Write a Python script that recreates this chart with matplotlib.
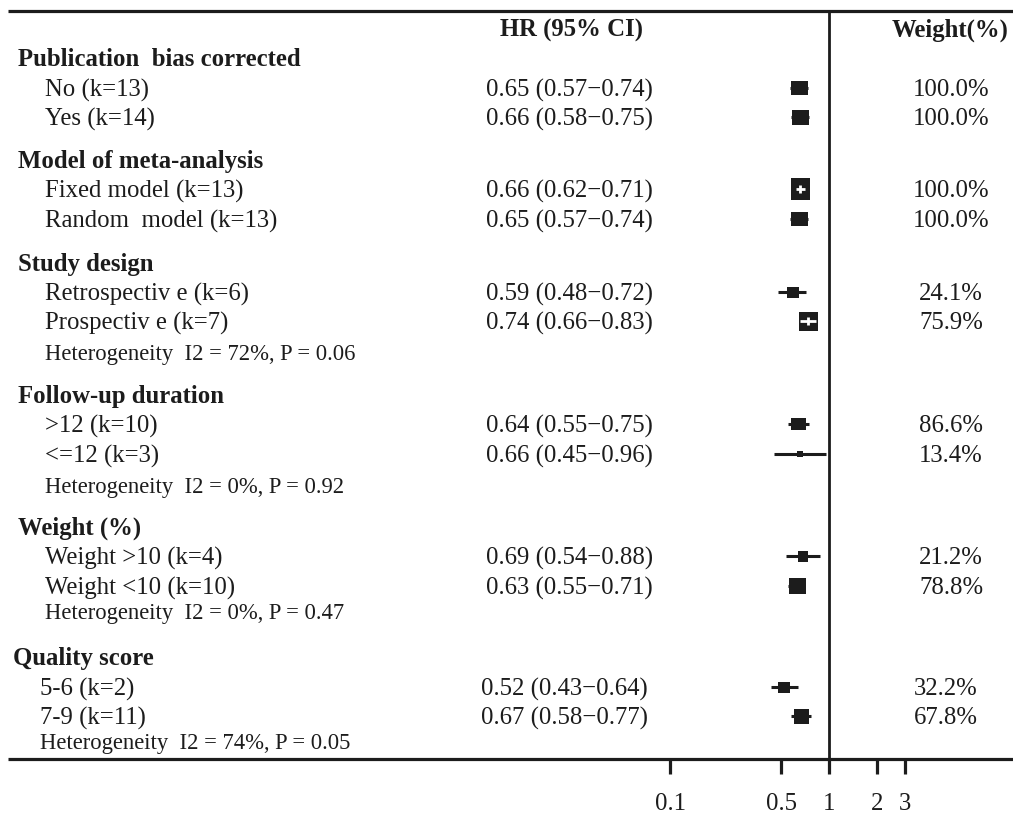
"""
Forest plot: subgroup / sensitivity analysis of HR (95% CI)
"""
import matplotlib
matplotlib.use('Agg')
import matplotlib.pyplot as plt
from matplotlib.path import Path

plt.rcParams['font.family'] = ['Liberation Serif', 'DejaVu Serif']

# ---- data ----
group_titles = ['Publication  bias corrected', 'Model of meta-analysis', 'Study design',
                'Follow-up duration', 'Weight (%)', 'Quality score']
sub_labels = ['No (k=13)', 'Yes (k=14)',
              'Fixed model (k=13)', 'Random  model (k=13)',
              'Retrospectiv e (k=6)', 'Prospectiv e (k=7)',
              '>12 (k=10)', '<=12 (k=3)',
              'Weight >10 (k=4)', 'Weight <10 (k=10)',
              '5-6 (k=2)', '7-9 (k=11)']
sub_group = [0, 0, 1, 1, 2, 2, 3, 3, 4, 4, 5, 5]
hr = [0.65, 0.66, 0.66, 0.65, 0.59, 0.74, 0.64, 0.66, 0.69, 0.63, 0.52, 0.67]
ci_low = [0.57, 0.58, 0.62, 0.57, 0.48, 0.66, 0.55, 0.45, 0.54, 0.55, 0.43, 0.58]
ci_high = [0.74, 0.75, 0.71, 0.74, 0.72, 0.83, 0.75, 0.96, 0.88, 0.71, 0.64, 0.77]
weights = [100.0, 100.0, 100.0, 100.0, 24.1, 75.9, 86.6, 13.4, 21.2, 78.8, 32.2, 67.8]
het_i2 = [None, None, 72, 0, 0, 74]
het_p = [None, None, 0.06, 0.92, 0.47, 0.05]
axis_ticks = [0.1, 0.5, 1, 2, 3]
axis_tick_labels = ['0.1', '0.5', '1', '2', '3']

# ---- layout (pixel rows of the 1013x817 canvas) ----
W, H = 1013, 817
title_y = [59, 161, 264, 396, 528, 659]
item_y = [90, 119, 191, 221, 294, 323, 426, 456, 558, 588, 689, 718]
het_y = [None, None, 354, 487, 614, 744]
group_dx = [0, 0, 0, 0, 0, -5]          # last block is set slightly to the left
# box size (w, h) in px, and whether the CI is drawn white inside the box
box_px = [(17, 14), (17, 15), (19, 22), (17, 14), (12, 11), (19, 19),
          (15, 12), (6, 6), (10, 11), (17, 16), (12, 11), (15, 15)]
inner_white = [False, False, True, False, False, True,
               False, False, False, False, False, False]

x0_px = 829        # position of HR = 1
decade_px = 159    # pixels per log10 decade

INK = '#1c1c1c'
FS = 17.8
FS_SMALL = 16.3


def box_marker(w, h):
    m = float(max(w, h))
    verts = [(-w / m, -h / m), (w / m, -h / m), (w / m, h / m), (-w / m, h / m), (-w / m, -h / m)]
    codes = [Path.MOVETO, Path.LINETO, Path.LINETO, Path.LINETO, Path.CLOSEPOLY]
    return Path(verts, codes)


fig = plt.figure(figsize=(W / 100, H / 100), dpi=100)
fig.patch.set_facecolor('white')

# forest axes: log x, y in canvas pixels
ax = fig.add_axes([0, 0, 1, 1])
ax.set_xscale('log')
ax.set_xlim(10 ** ((0 - x0_px) / decade_px), 10 ** ((W - x0_px) / decade_px))
ax.set_ylim(H, 0)
ax.axis('off')

# text axes: linear pixels
tax = fig.add_axes([0, 0, 1, 1])
tax.set_xlim(0, W)
tax.set_ylim(H, 0)
tax.axis('off')
tax.patch.set_alpha(0)

# rules
tax.plot([8, W], [11, 11], color=INK, lw=2.3, solid_capstyle='butt')
tax.plot([8, W], [759, 759], color=INK, lw=2.3, solid_capstyle='butt')
ax.plot([1, 1], [11, 759], color=INK, lw=2.0, solid_capstyle='butt')

# axis ticks and labels
ax.vlines(axis_ticks, 759, 774, color=INK, lw=2.3)
for t, lab in zip(axis_ticks, axis_tick_labels):
    ax.text(t, 804, lab, ha='center', va='center', fontsize=FS, color=INK)

# headers
tax.text(572, 30, 'HR (95% CI)', ha='center', va='center', fontsize=FS,
         fontweight='bold', color=INK)
tax.text(950, 30, 'Weight(%)', ha='center', va='center', fontsize=FS,
         fontweight='bold', color=INK)

# group titles and heterogeneity lines
for g, title in enumerate(group_titles):
    dx = group_dx[g]
    tax.text(18 + dx, title_y[g], title, ha='left', va='center', fontsize=FS,
             fontweight='bold', color=INK)
    if het_i2[g] is not None:
        tax.text(45 + dx, het_y[g],
                 'Heterogeneity  I2 = %d%%, P = %.2f' % (het_i2[g], het_p[g]),
                 ha='left', va='center', fontsize=FS_SMALL, color=INK)

# rows
for i, lab in enumerate(sub_labels):
    g = sub_group[i]
    dx = group_dx[g]
    y = item_y[i]
    tax.text(45 + dx, y, lab, ha='left', va='center', fontsize=FS, color=INK)
    tax.text(486 + dx, y, '%.2f (%.2f\u2212%.2f)' % (hr[i], ci_low[i], ci_high[i]),
             ha='left', va='center', fontsize=FS, color=INK)
    tax.text(951 + dx, y, '%.1f%%' % weights[i], ha='center', va='center',
             fontsize=FS, color=INK)

    yb = y - 2
    w, h = box_px[i]
    ax.plot([ci_low[i], ci_high[i]], [yb, yb], color=INK, lw=2.2,
            solid_capstyle='butt', zorder=2)
    ax.plot([hr[i]], [yb], marker=box_marker(w, h), ms=max(w, h) * 0.72,
            mew=0, color=INK, zorder=3)
    if inner_white[i]:
        ax.plot([ci_low[i], ci_high[i]], [yb, yb], color='white', lw=2.0,
                solid_capstyle='butt', zorder=4)
        ax.plot([hr[i]], [yb], marker='|', ms=min(w, h) * 0.72 * 0.4, mew=2.0,
                color='white', zorder=4)

fig.savefig('out.png', dpi=100, facecolor='white')
